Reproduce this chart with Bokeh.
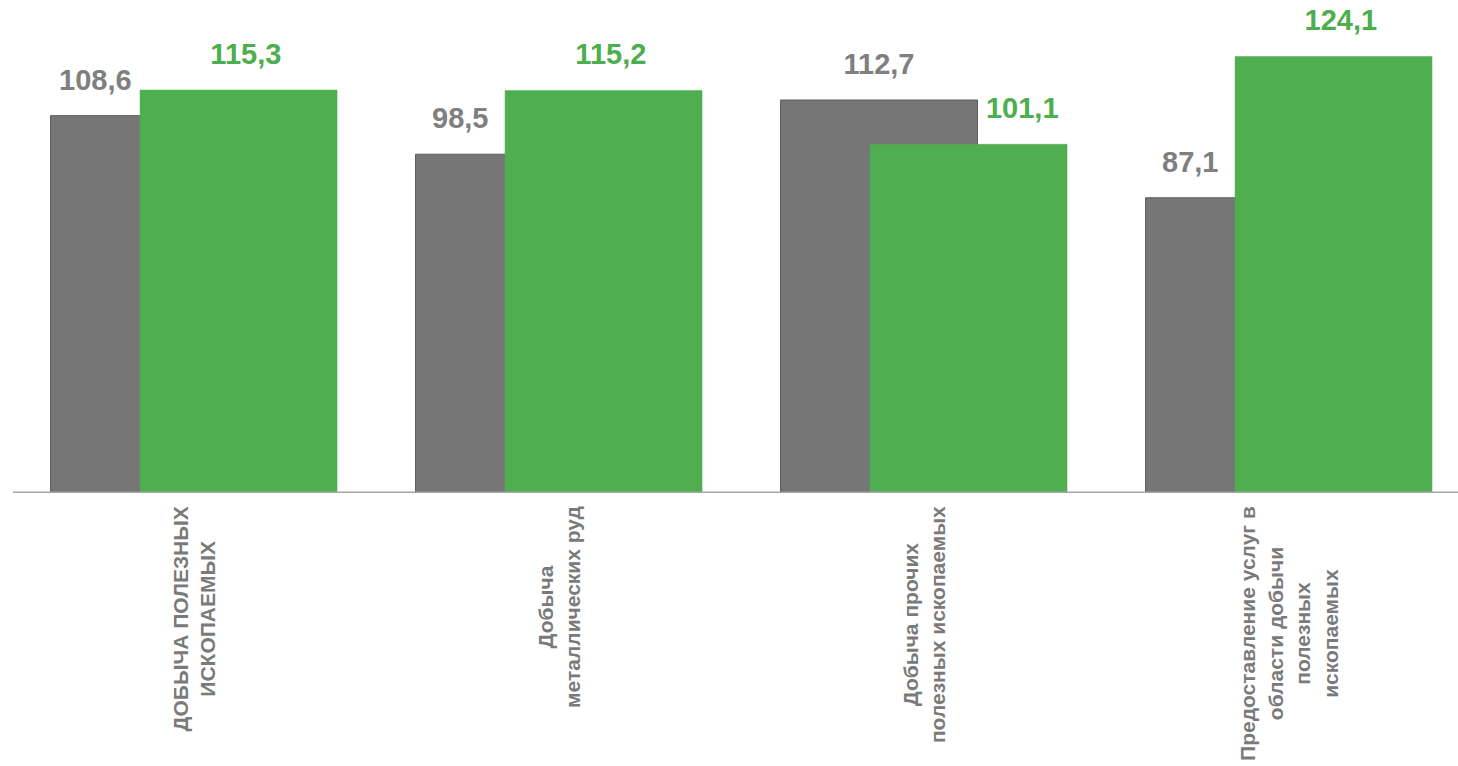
import math
from bokeh.plotting import figure
from bokeh.models import ColumnDataSource, Range1d, Span
from bokeh.core.properties import value
from bokeh.embed import file_html
from bokeh.resources import INLINE

# ---- data ----
categories = [
    "ДОБЫЧА ПОЛЕЗНЫХ\nИСКОПАЕМЫХ",
    "Добыча\nметаллических руд",
    "Добыча прочих\nполезных ископаемых",
    "Предоставление услуг в\nобласти добычи\nполезных\nископаемых",
]
prev_values = [108.6, 98.5, 112.7, 87.1]
curr_values = [115.3, 115.2, 101.1, 124.1]
axis_base = 10

# ---- style / layout ----
GRAY = "#767676"
GRAY_EDGE = "#5e5e5e"
GRAY_TXT = "#7f7f7f"
GREEN = "#4fae50"
GREEN_TXT = "#4cae4c"
CAT_TXT = "#7a7a7a"
FONT = value("Liberation Sans")

W, H = 1458, 766
BL, BT = 12, 8
px_per_cat = 365.0
px_per_unit = 3.819
frame_w = W - BL
frame_h = H - BT
x0 = -0.4973
y_base_px = 491.7 - BT  # baseline position inside frame

gray_off, green_off, bar_w = -0.1233, 0.122, 0.5397

n = len(categories)
xs = list(range(n))
gx = [i + gray_off for i in xs]
cx = [i + green_off for i in xs]

# label x positions: taller bar -> its centre, shorter bar -> centre of its visible part
glx, clx = [], []
for i in xs:
    g_l, g_r = gx[i] - bar_w / 2, gx[i] + bar_w / 2
    c_l, c_r = cx[i] - bar_w / 2, cx[i] + bar_w / 2
    if prev_values[i] < curr_values[i]:
        glx.append((g_l + c_l) / 2)
        clx.append(cx[i] + 0.02)
    else:
        glx.append(gx[i])
        clx.append((g_r + c_r) / 2)

fmt = lambda v: f"{v:.1f}".replace(".", ",")

src = ColumnDataSource(dict(
    x=xs, gx=gx, cx=cx, prev=prev_values, curr=curr_values,
    glx=glx, clx=clx,
    gtxt=[fmt(v) for v in prev_values], ctxt=[fmt(v) for v in curr_values],
    cat=categories, base=[axis_base] * n,
))

y_top = axis_base + y_base_px / px_per_unit
y_bot = axis_base - (frame_h - y_base_px) / px_per_unit

p = figure(width=W, height=H, output_backend="svg", toolbar_location=None,
           x_range=Range1d(x0, x0 + frame_w / px_per_cat),
           y_range=Range1d(y_bot, y_top),
           x_axis_location=None, y_axis_location=None,
           min_border_left=BL, min_border_right=0, min_border_top=BT, min_border_bottom=0)
p.outline_line_color = None
p.xgrid.visible = False
p.ygrid.visible = False
p.background_fill_color = "white"
p.border_fill_color = "white"

p.vbar(x="gx", top="prev", bottom="base", width=bar_w, source=src,
       fill_color=GRAY, line_color=GRAY_EDGE, line_width=1)
p.vbar(x="cx", top="curr", bottom="base", width=bar_w, source=src,
       fill_color=GREEN, line_color=GREEN, line_width=0.5)

p.add_layout(Span(location=axis_base, dimension="width", line_color="#a6a6a6", line_width=1.5))

p.text(x="glx", y="prev", text="gtxt", source=src, text_font=FONT, text_font_style="bold",
       text_font_size="29px", text_color=GRAY_TXT, text_align="center",
       text_baseline="alphabetic", y_offset=-36)
p.text(x="clx", y="curr", text="ctxt", source=src, text_font=FONT, text_font_style="bold",
       text_font_size="29px", text_color=GREEN_TXT, text_align="center",
       text_baseline="alphabetic", y_offset=-36)

p.text(x="x", y="base", text="cat", source=src, angle=math.pi / 2, anchor="center_right",
       text_align="center", text_font=FONT, text_font_style="bold", text_font_size="21px",
       text_color=CAT_TXT, text_line_height=1.2, y_offset=14)

open("out.html", "w").write(file_html(p, INLINE))
